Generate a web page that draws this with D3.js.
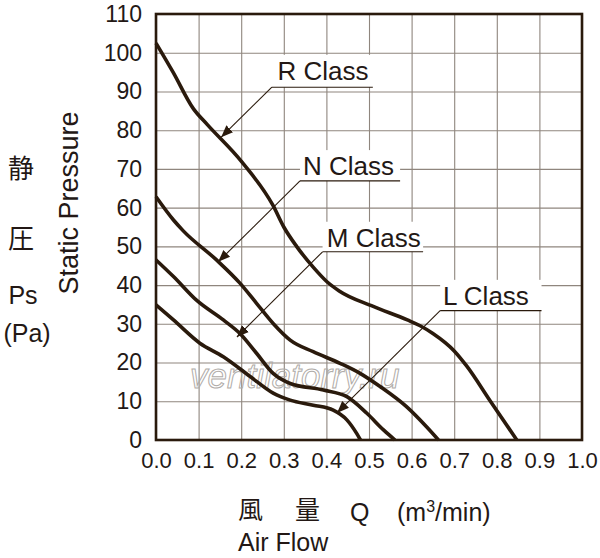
<!DOCTYPE html>
<html lang="ja">
<head>
  <meta charset="UTF-8"/>
  <title>Static Pressure vs Air Flow</title>
  <script src="https://cdn.jsdelivr.net/npm/d3@7"></script>
  <style>
    body { margin: 0; background: #fff; }
    svg { display: block; font-family: "Liberation Sans", Arial, sans-serif; }
    .grid line { stroke: #8f867e; stroke-width: 1.1; }
    .grid path { display: none; }
    .tick text { fill: #231815; }
    .curve { fill: none; stroke: #2a1a0c; stroke-width: 3.6; stroke-linejoin: round; }
    .leader { stroke: #2a1a0c; stroke-width: 1.1; }
    .label { fill: #231815; }
  </style>
</head>
<body>
<div id="container"><svg width="600" height="558"></svg></div>
<script>
// x: air flow (m3/min), y: static pressure (Pa)
const xTicks = [0, 0.1, 0.2, 0.3, 0.4, 0.5, 0.6, 0.7, 0.8, 0.9, 1.0];
const yTicks = [0, 10, 20, 30, 40, 50, 60, 70, 80, 90, 100, 110];

const classR = [[0, 102.5], [0.04, 95], [0.088, 85.5], [0.12, 81.5], [0.2, 72], [0.275, 60.5], [0.3, 55],
  [0.33, 50], [0.37, 44.5], [0.4, 41], [0.43, 38.5], [0.51, 34.5], [0.59, 31], [0.62, 29.5],
  [0.65, 27.5], [0.7, 23], [0.73, 19], [0.785, 10], [0.847, 0]];
const classN = [[0, 62.8], [0.041, 56.8], [0.064, 54], [0.142, 46.5], [0.197, 40.5], [0.236, 35.3],
  [0.275, 30.1], [0.315, 25.8], [0.369, 22.8], [0.432, 19.8], [0.479, 17.2], [0.526, 13.8],
  [0.588, 8.6], [0.635, 3.4], [0.663, 0]];
const classM = [[0, 46.5], [0.041, 42.2], [0.095, 36.1], [0.158, 31], [0.197, 27.5], [0.236, 22.4],
  [0.275, 17.2], [0.315, 14.6], [0.393, 12.9], [0.448, 11.2], [0.495, 6.9], [0.534, 2.6], [0.561, 0]];
const classL = [[0, 34.9], [0.041, 31], [0.103, 25], [0.158, 21.5], [0.221, 16.4], [0.275, 12.1],
  [0.315, 10.3], [0.369, 9], [0.416, 7.7], [0.448, 5.2], [0.471, 1.7], [0.48, 0]];

const series = [classR, classN, classM, classL];
const classNames = ['R Class', 'N Class', 'M Class', 'L Class'];

// label anchors in data units: text start/baseline, underline, arrow tip
const labelAt = [
  { tx: 0.285, ty: 93.0, ux1: 0.272, ux2: 0.509, uy: 91.1, px: 0.153, py: 78.2 },
  { tx: 0.345, ty: 68.4, ux1: 0.338, ux2: 0.573, uy: 66.9, px: 0.146, py: 46.0 },
  { tx: 0.401, ty: 49.9, ux1: 0.391, ux2: 0.627, uy: 48.6, px: 0.190, py: 26.6 },
  { tx: 0.674, ty: 34.9, ux1: 0.667, ux2: 0.905, uy: 33.4, px: 0.425, py: 7.0 }
];

const svg = d3.select('svg');
const marginLeft = 156, marginTop = 14;
const width = 426, height = 426;

const xScale = d3.scaleLinear().domain([0, 1]).range([0, width]);
const yScale = d3.scaleLinear().domain([0, 110]).range([height, 0]);

const chart = svg.append('g')
  .attr('transform', `translate(${marginLeft}, ${marginTop})`);

// grid
chart.append('g')
  .attr('class', 'grid')
  .call(d3.axisLeft(yScale).tickValues(yTicks).tickSize(-width).tickFormat(''));
chart.append('g')
  .attr('class', 'grid')
  .attr('transform', `translate(0, ${height})`)
  .call(d3.axisBottom(xScale).tickValues(xTicks).tickSize(-height).tickFormat(''));

// watermark
chart.append('text')
  .attr('x', xScale(0.08))
  .attr('y', yScale(13.5))
  .attr('font-size', 35)
  .attr('font-style', 'italic')
  .attr('fill', 'none')
  .attr('stroke', '#b0aca8')
  .attr('stroke-width', 1)
  .text('ventilatorry.ru');

// label boxes hide the grid behind the text
const labels = chart.selectAll('.lab')
  .data(labelAt)
  .enter()
  .append('g')
  .attr('class', 'lab');

labels.append('rect')
  .attr('x', (d) => xScale(d.ux1))
  .attr('y', (d) => yScale(d.ty) - 25)
  .attr('width', (d) => xScale(d.ux2) - xScale(d.ux1))
  .attr('height', (d) => yScale(d.uy) - yScale(d.ty) + 25)
  .attr('fill', '#fff');

// curves
const line = d3.line()
  .x((d) => xScale(d[0]))
  .y((d) => yScale(d[1]))
  .curve(d3.curveMonotoneX);

chart.selectAll('.curve')
  .data(series)
  .enter()
  .append('path')
  .attr('class', 'curve')
  .attr('d', line);

// leaders and arrows
svg.append('defs').append('marker')
  .attr('id', 'arrow')
  .attr('viewBox', '0 0 10 10')
  .attr('refX', 10)
  .attr('refY', 5)
  .attr('markerWidth', 12)
  .attr('markerHeight', 12)
  .attr('markerUnits', 'userSpaceOnUse')
  .attr('orient', 'auto')
  .append('path')
  .attr('d', 'M0,1 L10,5 L0,9 Z')
  .attr('fill', '#2a1a0c');

labels.append('line')
  .attr('class', 'leader')
  .attr('x1', (d) => xScale(d.ux1))
  .attr('y1', (d) => yScale(d.uy))
  .attr('x2', (d) => xScale(d.ux2))
  .attr('y2', (d) => yScale(d.uy));

labels.append('line')
  .attr('class', 'leader')
  .attr('x1', (d) => xScale(d.ux1))
  .attr('y1', (d) => yScale(d.uy))
  .attr('x2', (d) => xScale(d.px))
  .attr('y2', (d) => yScale(d.py))
  .attr('marker-end', 'url(#arrow)');

labels.append('text')
  .attr('class', 'label')
  .attr('x', (d) => xScale(d.tx))
  .attr('y', (d) => yScale(d.ty))
  .attr('font-size', 26)
  .text((d, i) => classNames[i]);

// frame
chart.append('rect')
  .attr('width', width)
  .attr('height', height)
  .attr('fill', 'none')
  .attr('stroke', '#2a1a0c')
  .attr('stroke-width', 2.6);

// axes
const yAxis = chart.append('g')
  .call(d3.axisLeft(yScale).tickValues(yTicks).tickSize(0).tickPadding(14));
yAxis.select('.domain').remove();
yAxis.selectAll('text').attr('font-size', 23).attr('font-family', '"Liberation Sans", Arial, sans-serif');

const xAxis = chart.append('g')
  .attr('transform', `translate(0, ${height})`)
  .call(d3.axisBottom(xScale).tickValues(xTicks).tickSize(0).tickPadding(12)
    .tickFormat((d) => d.toFixed(1)));
xAxis.select('.domain').remove();
xAxis.selectAll('text').attr('font-size', 22).attr('font-family', '"Liberation Sans", Arial, sans-serif');

// axis titles
const ink = '#231815';
const cjk = '"Noto Sans CJK JP", "Liberation Sans", sans-serif';

svg.append('text')
  .attr('transform', 'translate(78, 203) rotate(-90)')
  .attr('text-anchor', 'middle')
  .attr('font-size', 27)
  .attr('fill', ink)
  .text('Static Pressure');

svg.append('text').attr('x', 21).attr('y', 178).attr('text-anchor', 'middle')
  .attr('font-size', 26).attr('font-family', cjk).attr('fill', ink).text('静');
svg.append('text').attr('x', 21).attr('y', 248).attr('text-anchor', 'middle')
  .attr('font-size', 26).attr('font-family', cjk).attr('fill', ink).text('圧');
svg.append('text').attr('x', 23).attr('y', 304).attr('text-anchor', 'middle')
  .attr('font-size', 25).attr('fill', ink).text('Ps');
svg.append('text').attr('x', 27).attr('y', 342).attr('text-anchor', 'middle')
  .attr('font-size', 25).attr('fill', ink).text('(Pa)');

svg.append('text').attr('x', 238).attr('y', 519)
  .attr('font-size', 25).attr('font-family', cjk).attr('fill', ink).text('風');
svg.append('text').attr('x', 295).attr('y', 519)
  .attr('font-size', 25).attr('font-family', cjk).attr('fill', ink).text('量');

const flow = svg.append('text')
  .attr('y', 521)
  .attr('font-size', 25)
  .attr('fill', ink);
flow.append('tspan').attr('x', 350).text('Q');
flow.append('tspan').attr('x', 397).text('(m');
flow.append('tspan').attr('dy', -9).attr('font-size', 16).text('3');
flow.append('tspan').attr('dy', 9).text('/min)');

svg.append('text')
  .attr('x', 238)
  .attr('y', 551)
  .attr('font-size', 25)
  .attr('fill', ink)
  .text('Air Flow');
</script>
</body>
</html>
